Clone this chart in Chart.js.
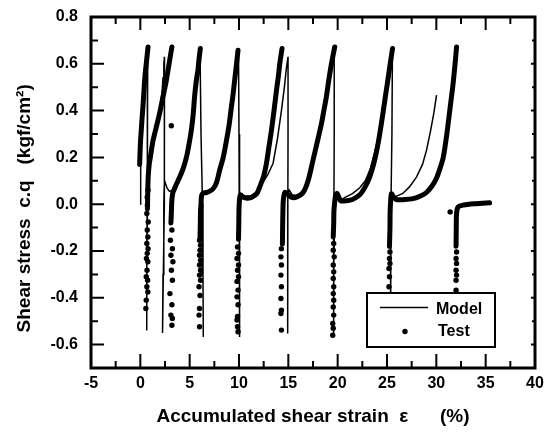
<!DOCTYPE html>
<html>
<head>
<meta charset="utf-8">
<script src="https://cdn.jsdelivr.net/npm/chart.js@4.4.1/dist/chart.umd.min.js"></script>
<style>
  html, body { margin: 0; padding: 0; background: #fff; }
</style>
</head>
<body>
<canvas id="c" width="545" height="433"></canvas>
<script>
// axis ticks
const xTicks = [-5, 0, 5, 10, 15, 20, 25, 30, 35, 40];
const yTicks = [-0.6, -0.4, -0.2, 0.0, 0.2, 0.4, 0.6, 0.8];

// model response, one branch per cycle: [strain %, stress kgf/cm2]
const modelBranch0 = [[0.0,0.0],[0.02,0.1],[0.05,0.19],[0.12,0.3],[0.2,0.42],[0.35,0.52],[0.55,0.6],[0.75,0.66],[0.72,0.4],[0.7,0.1],[0.66,-0.2],[0.64,-0.54]];
const modelBranch1 = [[0.66,-0.3],[0.72,0.0],[0.85,0.15],[1.0,0.2],[1.4,0.28],[1.8,0.36],[2.05,0.42],[2.2,0.48],[2.3,0.54],[2.38,0.6],[2.45,0.63],[2.45,0.3],[2.42,0.0],[2.33,-0.3],[2.25,-0.55]];
const modelBranch2 = [[2.3,-0.3],[2.38,0.0],[2.42,0.08],[2.5,0.095],[2.7,0.07],[2.95,0.055],[3.3,0.06],[3.65,0.08],[4.0,0.11],[4.32,0.145],[4.67,0.195],[5.0,0.27],[5.2,0.33],[5.45,0.44],[5.7,0.54],[5.9,0.62],[6.05,0.66],[6.15,0.3],[6.3,0.0],[6.35,-0.3],[6.38,-0.567]];
const modelBranch3 = [[6.35,-0.3],[6.25,-0.05],[6.28,0.03],[6.4,0.045],[6.8,0.05],[7.3,0.062],[7.7,0.085],[8.04,0.14],[8.4,0.2],[8.72,0.27],[9.0,0.34],[9.25,0.42],[9.55,0.53],[9.8,0.62],[9.95,0.66],[10.0,0.3],[10.05,0.0],[10.05,-0.3],[10.05,-0.567]];
const modelBranch4 = [[10.05,-0.3],[10.05,-0.02],[10.1,0.04],[10.2,0.045],[10.6,0.035],[11.2,0.035],[11.8,0.055],[12.3,0.085],[12.9,0.125],[13.45,0.174],[13.9,0.28],[14.3,0.4],[14.6,0.5],[14.8,0.58],[14.97,0.63],[14.97,0.3],[14.95,0.0],[14.95,-0.3],[14.95,-0.553]];
const modelBranch5 = [[14.92,-0.3],[14.9,-0.02],[14.95,0.04],[15.1,0.06],[15.4,0.04],[16.0,0.035],[16.6,0.055],[17.1,0.11],[17.5,0.18],[17.9,0.255],[18.36,0.345],[18.86,0.46],[19.37,0.6],[19.65,0.665],[19.65,0.3],[19.62,0.0],[19.6,-0.3],[19.58,-0.56]];
const modelBranch6 = [[19.6,-0.3],[19.7,-0.02],[19.8,0.03],[19.9,0.05],[20.1,0.035],[20.4,0.02],[20.8,0.03],[21.5,0.045],[22.24,0.07],[22.8,0.1],[23.3,0.15],[23.8,0.23],[24.2,0.3],[24.8,0.45],[25.3,0.6],[25.55,0.665],[25.5,0.3],[25.4,0.0],[25.38,-0.3],[25.35,-0.55]];
const modelBranch7 = [[25.35,-0.3],[25.35,-0.02],[25.4,0.03],[25.45,0.05],[25.6,0.04],[25.8,0.031],[26.6,0.046],[27.3,0.075],[28.0,0.117],[28.6,0.17],[29.0,0.23],[29.4,0.31],[29.75,0.39],[30.02,0.466]];

// test readings where samples are packed tight (reloading branches)
const testPath0 = [[-0.07,0.17],[-0.03,0.22],[0.02,0.27],[0.1,0.32],[0.18,0.37],[0.27,0.42],[0.36,0.48],[0.44,0.53],[0.52,0.57],[0.6,0.6],[0.7,0.64],[0.78,0.672]];
const testPath1 = [[0.72,-0.02],[0.75,0.05],[0.8,0.12],[0.9,0.17],[1.05,0.21],[1.28,0.27],[1.62,0.33],[1.96,0.39],[2.3,0.46],[2.64,0.53],[2.97,0.615],[3.2,0.672]];
const testPath2 = [[3.1,-0.08],[3.15,-0.03],[3.2,0.02],[3.3,0.05],[3.45,0.065],[3.65,0.085],[4.0,0.117],[4.32,0.15],[4.67,0.2],[4.95,0.26],[5.17,0.316],[5.35,0.38],[5.5,0.46],[5.68,0.53],[5.84,0.573],[5.95,0.62],[6.08,0.665]];
const testPath3 = [[6.05,-0.14],[6.08,-0.08],[6.1,-0.03],[6.15,0.0],[6.2,0.035],[6.35,0.047],[6.7,0.05],[7.0,0.055],[7.36,0.065],[7.7,0.09],[8.04,0.145],[8.4,0.2],[8.72,0.27],[9.0,0.34],[9.23,0.416],[9.4,0.47],[9.56,0.53],[9.75,0.6],[9.9,0.658]];
const testPath4 = [[9.95,-0.15],[9.98,-0.08],[10.0,-0.02],[10.05,0.02],[10.15,0.04],[10.4,0.03],[10.8,0.025],[11.3,0.03],[11.8,0.045],[12.1,0.074],[12.5,0.12],[12.78,0.174],[13.0,0.235],[13.29,0.316],[13.55,0.4],[13.8,0.487],[14.0,0.55],[14.13,0.6],[14.36,0.665]];
const testPath5 = [[14.4,-0.17],[14.42,-0.1],[14.45,-0.03],[14.5,0.02],[14.65,0.05],[14.9,0.045],[15.3,0.03],[15.8,0.03],[16.5,0.05],[17.0,0.1],[17.5,0.188],[17.9,0.26],[18.36,0.345],[18.6,0.4],[18.86,0.46],[19.1,0.53],[19.37,0.6],[19.7,0.672]];
const testPath6 = [[19.55,-0.14],[19.6,-0.08],[19.62,-0.03],[19.7,0.01],[19.8,0.04],[19.95,0.045],[20.3,0.015],[20.9,0.015],[21.5,0.02],[22.24,0.04],[22.8,0.075],[23.25,0.117],[23.7,0.18],[24.1,0.26],[24.45,0.35],[24.78,0.444],[25.05,0.52],[25.28,0.587],[25.56,0.665]];
const testPath7 = [[25.25,-0.18],[25.3,-0.1],[25.32,-0.03],[25.38,0.02],[25.45,0.045],[25.6,0.035],[25.96,0.02],[26.8,0.02],[27.65,0.024],[28.4,0.035],[29.0,0.05],[29.6,0.08],[30.0,0.11],[30.35,0.15],[30.7,0.2],[31.0,0.28],[31.2,0.345],[31.45,0.43],[31.7,0.516],[31.9,0.6],[32.05,0.672]];
const testPath8 = [[32.0,-0.18],[32.02,-0.1],[32.05,-0.04],[32.2,-0.012],[32.7,-0.004],[33.3,0.0],[34.0,0.002],[34.7,0.004],[35.4,0.006]];

// test readings on the unloading drops (spaced samples)
const testDots0 = [[0.78,0.06],[0.7,0.03],[0.72,-0.004],[0.66,-0.04],[0.8,-0.076],[0.7,-0.11],[0.76,-0.14],[0.66,-0.168],[0.78,-0.19],[0.7,-0.21],[0.62,-0.232],[0.76,-0.246],[0.68,-0.282],[0.6,-0.31],[0.74,-0.325],[0.66,-0.353],[0.76,-0.375],[0.6,-0.41],[0.56,-0.446]];
const testDots1 = [[3.14,0.335],[3.2,-0.11],[3.05,-0.154],[3.25,-0.19],[3.1,-0.218],[3.3,-0.246],[3.15,-0.282],[3.25,-0.325],[3.0,-0.382],[3.2,-0.43],[3.1,-0.474],[3.25,-0.488],[3.2,-0.517]];
const testDots2 = [[6.0,-0.154],[6.1,-0.175],[6.05,-0.197],[6.0,-0.218],[6.1,-0.24],[6.0,-0.26],[6.1,-0.282],[6.0,-0.303],[6.1,-0.325],[5.95,-0.353],[6.05,-0.39],[6.0,-0.446],[5.95,-0.474],[6.0,-0.524]];
const testDots3 = [[9.85,-0.183],[9.95,-0.21],[9.8,-0.232],[9.95,-0.26],[9.85,-0.282],[9.95,-0.31],[9.8,-0.33],[9.9,-0.367],[9.8,-0.396],[9.9,-0.43],[9.85,-0.48],[9.8,-0.495],[9.85,-0.524],[9.9,-0.545]];
const testDots4 = [[14.3,-0.19],[14.25,-0.225],[14.3,-0.26],[14.25,-0.303],[14.3,-0.353],[14.25,-0.403],[14.3,-0.453],[14.25,-0.467],[14.3,-0.538]];
const testDots5 = [[19.6,-0.168],[19.55,-0.197],[19.65,-0.225],[19.55,-0.26],[19.6,-0.289],[19.55,-0.317],[19.6,-0.353],[19.55,-0.382],[19.6,-0.41],[19.55,-0.439],[19.6,-0.474],[19.5,-0.51],[19.55,-0.53],[19.5,-0.56]];
const testDots6 = [[25.3,-0.204],[25.25,-0.232],[25.3,-0.253],[25.2,-0.275],[25.25,-0.31],[25.2,-0.353],[25.25,-0.39],[25.2,-0.43],[25.25,-0.47],[25.2,-0.51]];
const testDots7 = [[31.4,-0.033],[32.05,-0.204],[32.0,-0.232],[32.05,-0.253],[32.0,-0.282],[32.05,-0.303],[32.0,-0.325],[32.0,-0.368],[32.0,-0.41],[32.0,-0.45],[32.0,-0.5]];

const modelBranches = [modelBranch0, modelBranch1, modelBranch2, modelBranch3, modelBranch4, modelBranch5, modelBranch6, modelBranch7];
const testPaths = [testPath0, testPath1, testPath2, testPath3, testPath4, testPath5, testPath6, testPath7, testPath8];
const testDots = [testDots0, testDots1, testDots2, testDots3, testDots4, testDots5, testDots6, testDots7];

const FONT = '"Liberation Sans", Arial, Helvetica, sans-serif';
const toXY = pts => pts.map(([x, y]) => ({ x, y }));

const datasets = [];
datasets.push({
  label: 'Model',
  data: toXY(modelBranches.flat()),
  showLine: true,
  borderColor: '#000',
  borderWidth: 1.5,
  pointRadius: 0,
  tension: 0
});
testPaths.forEach(p => datasets.push({
  label: 'Test',
  data: toXY(p),
  showLine: true,
  borderColor: '#000',
  borderWidth: 5,
  borderCapStyle: 'round',
  borderJoinStyle: 'round',
  pointRadius: 0,
  tension: 0.3
}));
testDots.forEach(p => datasets.push({
  label: 'Test',
  data: toXY(p),
  showLine: false,
  pointRadius: 2.7,
  pointBackgroundColor: '#000',
  pointBorderWidth: 0
}));

// frame, inward tick marks and the boxed legend
const framePlugin = {
  id: 'frame',
  afterDatasetsDraw(chart) {
    const { ctx, chartArea: a, scales: { x, y } } = chart;
    ctx.save();
    ctx.strokeStyle = '#000';
    ctx.fillStyle = '#000';

    ctx.lineWidth = 2;
    ctx.beginPath();
    xTicks.forEach((v, i) => {
      const marks = [[v, true]];
      if (i < xTicks.length - 1) marks.push([(v + xTicks[i + 1]) / 2, false]);
      marks.forEach(([t, major]) => {
        const px = x.getPixelForValue(t);
        ctx.moveTo(px, a.bottom); ctx.lineTo(px, a.bottom - (major ? 14 : 7));
        ctx.moveTo(px, a.top); ctx.lineTo(px, a.top + (major ? 13 : 7));
      });
    });
    const yMarks = yTicks.map(v => [v, true]);
    yTicks.forEach((v, i) => {
      const next = i < yTicks.length - 1 ? yTicks[i + 1] : null;
      if (next !== null) yMarks.push([(v + next) / 2, false]);
    });
    yMarks.push([yTicks[0] - 0.1, false]);
    yMarks.forEach(([t, major]) => {
      const py = y.getPixelForValue(t);
      ctx.moveTo(a.left, py); ctx.lineTo(a.left + (major ? 13 : 7), py);
      ctx.moveTo(a.right, py); ctx.lineTo(a.right - (major ? 4 : 3), py);
    });
    ctx.stroke();

    // legend box
    const bw = 128, bh = 54;
    const bx = a.right - 40 - bw, by = a.bottom - 21 - bh;
    ctx.fillStyle = '#fff';
    ctx.fillRect(bx, by, bw, bh);
    ctx.lineWidth = 2;
    ctx.strokeRect(bx, by, bw, bh);
    ctx.fillStyle = '#000';
    ctx.lineWidth = 1.5;
    ctx.beginPath();
    ctx.moveTo(bx + 13, by + 14.5);
    ctx.lineTo(bx + 61, by + 14.5);
    ctx.stroke();
    ctx.beginPath();
    ctx.arc(bx + 38, by + 38.5, 2.7, 0, Math.PI * 2);
    ctx.fill();
    ctx.font = 'bold 16px ' + FONT;
    ctx.textBaseline = 'middle';
    ctx.textAlign = 'left';
    ctx.fillText('Model', bx + 69, by + 17);
    ctx.fillText('Test', bx + 71, by + 38.5);

    // plot frame
    ctx.lineWidth = 3;
    ctx.strokeRect(a.left, a.top, a.right - a.left, a.bottom - a.top);
    ctx.restore();
  }
};

new Chart(document.getElementById('c'), {
  type: 'scatter',
  data: { datasets },
  options: {
    responsive: false,
    animation: false,
    layout: { padding: { top: 17, right: 10, left: 0, bottom: 0 } },
    plugins: { legend: { display: false }, tooltip: { enabled: false } },
    scales: {
      x: {
        type: 'linear', min: -5, max: 40,
        grid: { display: false, drawTicks: false },
        border: { display: false },
        afterBuildTicks: s => { s.ticks = xTicks.map(v => ({ value: v })); },
        afterFit: s => { s.height = 65; s.paddingLeft = 0; s.paddingRight = 0; },
        ticks: { color: '#000', padding: 6, maxRotation: 0, autoSkip: false,
                 font: { family: FONT, size: 16, weight: 'bold' },
                 callback: v => String(v) },
        title: { display: true, text: 'Accumulated shear strain  \u03b5      (%)', color: '#000',
                 font: { family: FONT, size: 19, weight: 'bold' }, padding: { top: 0, bottom: 5 } }
      },
      y: {
        type: 'linear', min: -0.7, max: 0.8,
        grid: { display: false, drawTicks: false },
        border: { display: false },
        afterBuildTicks: s => { s.ticks = yTicks.map(v => ({ value: v })); },
        afterFit: s => { s.width = 91; s.paddingTop = 0; s.paddingBottom = 0; },
        ticks: { color: '#000', padding: 13,
                 font: { family: FONT, size: 16, weight: 'bold' },
                 callback: v => v.toFixed(1) },
        title: { display: true, text: 'Shear stress  c.q   (kgf/cm\u00b2)      ', color: '#000',
                 font: { family: FONT, size: 19, weight: 'bold' }, padding: { top: 13, bottom: 0 } }
      }
    }
  },
  plugins: [framePlugin]
});
</script>
</body>
</html>
